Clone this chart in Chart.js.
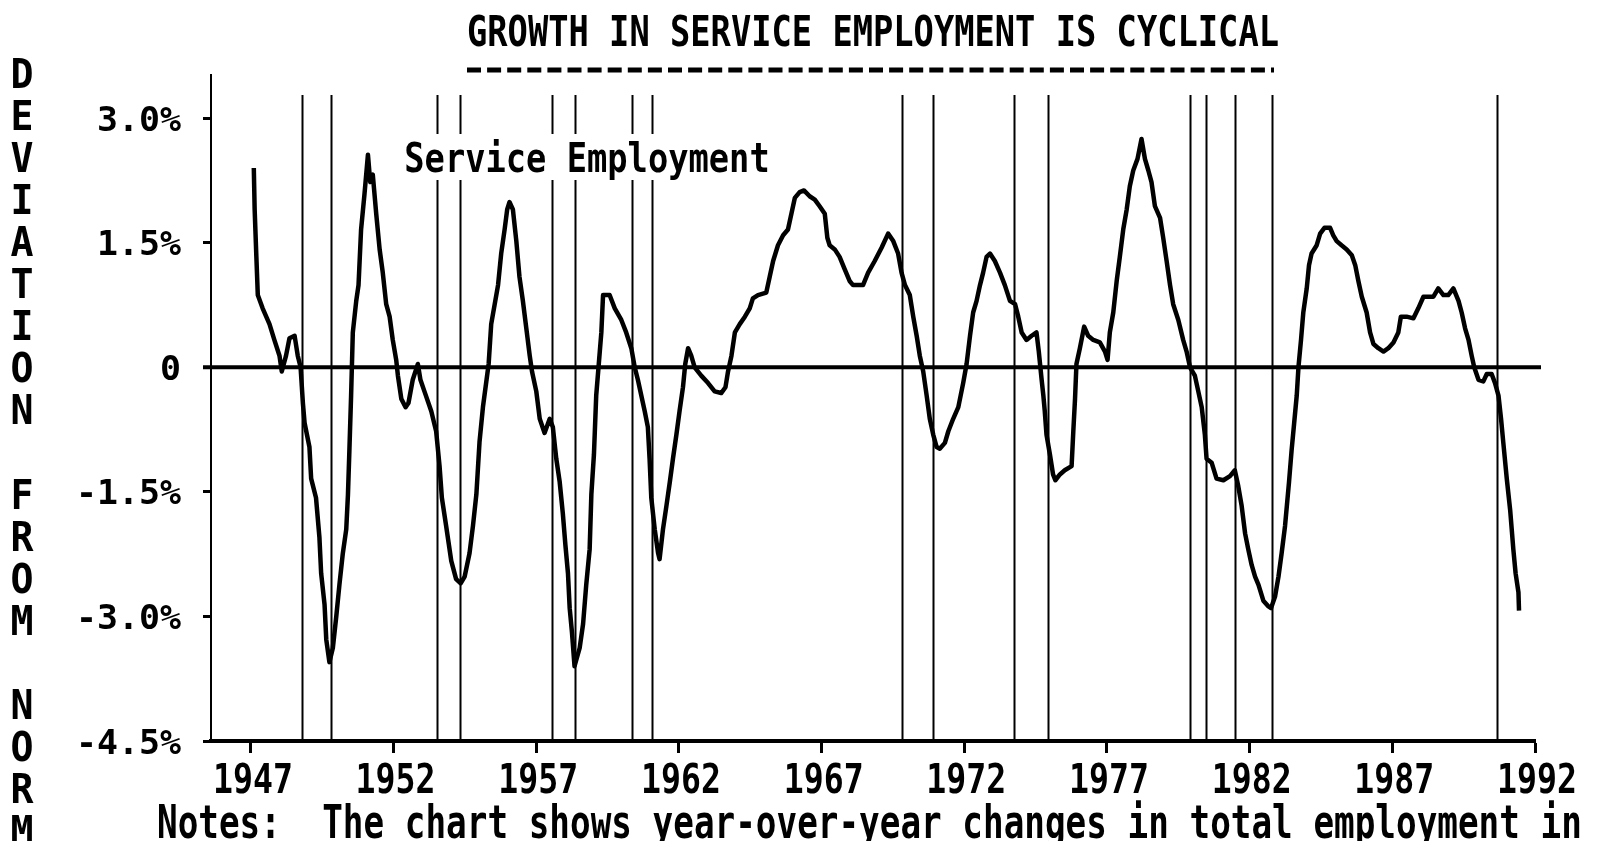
<!DOCTYPE html>
<html>
<head>
<meta charset="utf-8">
<script src="https://cdn.jsdelivr.net/npm/chart.js@4.4.1/dist/chart.umd.min.js"></script>
<style>
body { margin: 0; background: #fff; }
#wrap { width: 1605px; height: 841px; }
</style>
</head>
<body>
<div id="wrap"><canvas id="serviceChart" width="1605" height="841"></canvas></div>
<script>
// service employment growth, deviation from norm (%), by year
const obsYear = [
1947.10,1947.13,1947.19,1947.24,1947.41,1947.65,1947.82,1948.00,1948.08,1948.23,
1948.35,1948.53,1948.64,1948.74,1948.82,1948.88,1949.05,1949.11,1949.28,1949.40,
1949.46,1949.58,1949.64,1949.75,1949.87,1949.99,1950.10,1950.22,1950.34,1950.40,
1950.45,1950.51,1950.57,1950.69,1950.77,1950.86,1950.98,1951.10,1951.18,1951.27,
1951.39,1951.51,1951.62,1951.74,1951.86,1951.97,1952.09,1952.15,1952.27,1952.42,
1952.52,1952.67,1952.85,1952.94,1953.08,1953.32,1953.49,1953.61,1953.69,1953.84,
1954.02,1954.19,1954.35,1954.49,1954.66,1954.78,1954.90,1955.01,1955.13,1955.33,
1955.42,1955.66,1955.77,1955.89,1955.98,1956.06,1956.18,1956.30,1956.41,1956.53,
1956.65,1956.77,1956.85,1957.00,1957.12,1957.29,1957.47,1957.58,1957.70,1957.82,
1957.93,1958.02,1958.11,1958.17,1958.25,1958.34,1958.52,1958.64,1958.75,1958.87,
1958.93,1959.02,1959.10,1959.19,1959.28,1959.34,1959.57,1959.75,1959.98,1960.15,
1960.33,1960.45,1960.56,1960.68,1960.80,1960.91,1960.97,1961.03,1961.15,1961.27,
1961.32,1961.44,1961.56,1961.68,1961.79,1961.91,1962.02,1962.14,1962.22,1962.32,
1962.43,1962.55,1962.78,1963.02,1963.25,1963.48,1963.63,1963.72,1963.84,1963.96,
1964.13,1964.31,1964.48,1964.59,1964.77,1965.06,1965.18,1965.30,1965.47,1965.65,
1965.82,1965.94,1966.06,1966.23,1966.38,1966.58,1966.76,1966.93,1967.11,1967.20,
1967.28,1967.46,1967.63,1967.81,1967.98,1968.10,1968.45,1968.63,1968.86,1969.10,
1969.33,1969.51,1969.68,1969.80,1969.92,1970.09,1970.21,1970.33,1970.44,1970.56,
1970.68,1970.79,1970.91,1971.03,1971.14,1971.32,1971.44,1971.61,1971.79,1971.96,
1972.08,1972.20,1972.31,1972.43,1972.55,1972.66,1972.78,1972.90,1973.07,1973.25,
1973.42,1973.60,1973.78,1973.89,1974.01,1974.18,1974.36,1974.53,1974.61,1974.71,
1974.77,1974.82,1974.88,1975.00,1975.11,1975.19,1975.35,1975.52,1975.76,1975.82,
1975.88,1975.93,1976.05,1976.20,1976.34,1976.52,1976.75,1976.93,1977.02,1977.10,
1977.22,1977.34,1977.45,1977.57,1977.69,1977.80,1977.92,1978.07,1978.21,1978.33,
1978.45,1978.56,1978.68,1978.86,1978.97,1979.09,1979.21,1979.32,1979.50,1979.67,
1979.79,1979.91,1980.08,1980.20,1980.32,1980.43,1980.49,1980.67,1980.84,1981.08,
1981.31,1981.48,1981.60,1981.72,1981.84,1981.95,1982.07,1982.19,1982.31,1982.48,
1982.66,1982.75,1982.89,1983.01,1983.12,1983.24,1983.38,1983.47,1983.56,1983.65,
1983.71,1983.80,1983.88,1984.00,1984.08,1984.17,1984.35,1984.47,1984.62,1984.82,
1984.93,1985.05,1985.22,1985.40,1985.58,1985.70,1985.81,1985.93,1986.10,1986.22,
1986.34,1986.51,1986.69,1986.86,1987.04,1987.21,1987.30,1987.50,1987.74,1987.91,
1988.09,1988.26,1988.44,1988.61,1988.79,1988.96,1989.14,1989.32,1989.43,1989.55,
1989.67,1989.78,1989.87,1990.02,1990.19,1990.31,1990.48,1990.60,1990.72,1990.81,
1990.89,1991.01,1991.13,1991.24,1991.32,1991.42,1991.44
];
const deviation = [
2.40,1.90,1.33,0.87,0.71,0.52,0.33,0.14,-0.05,0.14,
0.35,0.38,0.14,0.00,-0.43,-0.67,-0.96,-1.34,-1.57,-2.05,
-2.48,-2.86,-3.28,-3.55,-3.38,-3.00,-2.62,-2.24,-1.95,-1.53,
-1.00,-0.34,0.42,0.80,0.99,1.66,2.09,2.56,2.23,2.32,
1.85,1.42,1.14,0.76,0.61,0.33,0.09,-0.10,-0.38,-0.48,
-0.43,-0.15,0.04,-0.15,-0.29,-0.53,-0.77,-1.19,-1.57,-1.91,
-2.33,-2.55,-2.60,-2.52,-2.24,-1.91,-1.53,-0.90,-0.48,0.04,
0.52,0.99,1.37,1.66,1.90,1.99,1.90,1.52,1.09,0.80,
0.47,0.14,-0.05,-0.29,-0.62,-0.79,-0.62,-0.72,-1.10,-1.38,
-1.76,-2.14,-2.48,-2.90,-3.19,-3.60,-3.38,-3.09,-2.62,-2.19,
-1.53,-1.05,-0.34,0.04,0.42,0.87,0.87,0.71,0.57,0.42,
0.23,0.00,-0.15,-0.34,-0.53,-0.72,-1.10,-1.57,-1.95,-2.24,
-2.31,-1.95,-1.67,-1.38,-1.10,-0.81,-0.53,-0.24,0.04,0.23,
0.14,0.00,-0.10,-0.19,-0.29,-0.31,-0.24,-0.05,0.14,0.42,
0.52,0.61,0.71,0.83,0.87,0.90,1.09,1.28,1.47,1.59,
1.66,1.85,2.04,2.11,2.13,2.06,2.02,1.94,1.85,1.56,
1.47,1.42,1.33,1.18,1.04,0.99,0.99,1.14,1.28,1.44,
1.61,1.52,1.37,1.14,0.99,0.87,0.61,0.38,0.14,-0.05,
-0.34,-0.62,-0.81,-0.96,-0.98,-0.91,-0.77,-0.62,-0.48,-0.19,
0.04,0.38,0.66,0.80,0.99,1.14,1.33,1.37,1.28,1.14,
0.99,0.80,0.76,0.61,0.42,0.33,0.38,0.42,0.19,-0.15,
-0.34,-0.53,-0.81,-1.05,-1.29,-1.36,-1.29,-1.24,-1.19,-0.77,
-0.38,0.04,0.23,0.49,0.38,0.33,0.30,0.19,0.09,0.42,
0.66,1.04,1.33,1.66,1.90,2.18,2.37,2.51,2.75,2.51,
2.37,2.23,1.94,1.80,1.56,1.28,0.99,0.76,0.57,0.33,
0.19,0.00,-0.10,-0.29,-0.48,-0.81,-1.10,-1.15,-1.34,-1.36,
-1.31,-1.24,-1.43,-1.67,-2.00,-2.19,-2.38,-2.52,-2.62,-2.81,
-2.88,-2.90,-2.76,-2.52,-2.24,-1.91,-1.38,-1.00,-0.67,-0.34,
0.00,0.33,0.66,0.95,1.23,1.37,1.47,1.61,1.68,1.68,
1.59,1.52,1.47,1.42,1.35,1.23,1.04,0.85,0.66,0.42,
0.28,0.23,0.19,0.23,0.30,0.42,0.61,0.61,0.59,0.71,
0.85,0.85,0.85,0.95,0.87,0.87,0.95,0.80,0.66,0.47,
0.33,0.14,0.00,-0.15,-0.17,-0.08,-0.08,-0.19,-0.34,-0.62,
-0.91,-1.34,-1.72,-2.19,-2.48,-2.71,-2.93
];

// business cycle peaks and troughs
const cycleTurns = [1948.80, 1949.79, 1953.53, 1954.32, 1957.55, 1958.34, 1960.35, 1961.05,
  1969.80, 1970.91, 1973.75, 1974.94, 1979.91, 1980.47, 1981.48, 1982.77, 1990.68];

const xTicks = [1947, 1952, 1957, 1962, 1967, 1972, 1977, 1982, 1987, 1992];
const yTicks = [-4.5, -3, -1.5, 0, 1.5, 3];
const yTickLabels = ['-4.5%', '-3.0%', '-1.5%', '0', '1.5%', '3.0%'];

const titleText = 'GROWTH IN SERVICE EMPLOYMENT IS CYCLICAL';
const seriesName = 'Service Employment';
const axisTitle = 'DEVIATION FROM NORM';
const noteText = 'Notes:  The chart shows year-over-year changes in total employment in';

const FONT = '"DejaVu Sans Mono"';

// narrow, tall monospace text: adv = cell width, cap = cap height in px
function monoText(ctx, str, x, baseline, adv, cap, align) {
  ctx.save();
  ctx.font = 'bold 40px ' + FONT;
  const a = ctx.measureText('M').width;
  const c = ctx.measureText('H').actualBoundingBoxAscent;
  ctx.translate(x, baseline);
  ctx.scale(adv / a, cap / c);
  ctx.textAlign = align || 'left';
  ctx.textBaseline = 'alphabetic';
  ctx.fillStyle = '#000';
  ctx.fillText(str, 0, 0);
  ctx.restore();
}

const decorations = {
  id: 'decorations',
  beforeDatasetsDraw(chart) {
    const { ctx, chartArea, scales } = chart;
    const { x, y } = scales;
    ctx.save();
    ctx.strokeStyle = '#000';
    // recession markers
    ctx.lineWidth = 2;
    const top = y.getPixelForValue(3.28);
    cycleTurns.forEach(t => {
      const px = Math.round(x.getPixelForValue(t)) + 0.5;
      ctx.beginPath();
      ctx.moveTo(px, top);
      ctx.lineTo(px, chartArea.bottom);
      ctx.stroke();
    });
    // zero line
    const y0 = y.getPixelForValue(0);
    ctx.lineWidth = 4;
    ctx.beginPath();
    ctx.moveTo(chartArea.left - 8, y0);
    ctx.lineTo(chartArea.right + 6, y0);
    ctx.stroke();
    ctx.restore();
  },
  afterDraw(chart) {
    const { ctx, chartArea, scales } = chart;
    const { x, y } = scales;

    // title and dashed rule
    monoText(ctx, titleText, 873, 46, 20.3, 32, 'center');
    ctx.save();
    ctx.strokeStyle = '#000';
    ctx.lineWidth = 5;
    ctx.setLineDash([14, 6.1]);
    ctx.beginPath();
    ctx.moveTo(467, 70);
    ctx.lineTo(1274, 70);
    ctx.stroke();
    ctx.restore();

    // series label over a white box
    ctx.fillStyle = '#fff';
    ctx.fillRect(398, 134, 378, 46);
    monoText(ctx, seriesName, 587, 172, 20.3, 30, 'center');

    // value axis labels
    yTicks.forEach((v, i) => {
      monoText(ctx, yTickLabels[i], 181, y.getPixelForValue(v) + 12.5, 21, 25, 'right');
    });

    // year labels
    xTicks.forEach(v => {
      monoText(ctx, String(v), x.getPixelForValue(v) + 2, chartArea.bottom + 52, 20, 30, 'center');
    });

    // stacked axis title
    const rows = axisTitle.split('');
    const zeroY = y.getPixelForValue(0);
    rows.forEach((ch, i) => {
      if (ch === ' ') return;
      monoText(ctx, ch, 22, zeroY + (i - 7) * 42.1 + 15, 23, 30, 'center');
    });

    // notes line
    monoText(ctx, noteText, 157, 838, 20.65, 34, 'left');
  }
};

new Chart(document.getElementById('serviceChart'), {
  type: 'line',
  data: {
    datasets: [{
      label: seriesName,
      data: obsYear.map((t, i) => ({ x: t, y: deviation[i] })),
      borderColor: '#000',
      borderWidth: 4.5,
      borderJoinStyle: 'round',
      pointRadius: 0,
      tension: 0,
      fill: false
    }]
  },
  options: {
    responsive: false,
    animation: false,
    layout: { padding: { left: 203, right: 70, top: 75, bottom: 88 } },
    plugins: { legend: { display: false }, tooltip: { enabled: false } },
    scales: {
      x: {
        type: 'linear',
        min: 1945.6,
        max: 1992,
        afterBuildTicks: s => { s.ticks = xTicks.map(v => ({ value: v })); },
        ticks: { display: false },
        grid: { drawOnChartArea: false, tickLength: 12, tickWidth: 3, tickColor: '#000' },
        border: { color: '#000', width: 4 }
      },
      y: {
        min: -4.5,
        max: 3.52,
        afterBuildTicks: s => { s.ticks = yTicks.map(v => ({ value: v })); },
        ticks: { display: false },
        grid: { drawOnChartArea: false, tickLength: 8, tickWidth: 3, tickColor: '#000' },
        border: { color: '#000', width: 2 }
      }
    }
  },
  plugins: [decorations]
});
</script>
</body>
</html>
